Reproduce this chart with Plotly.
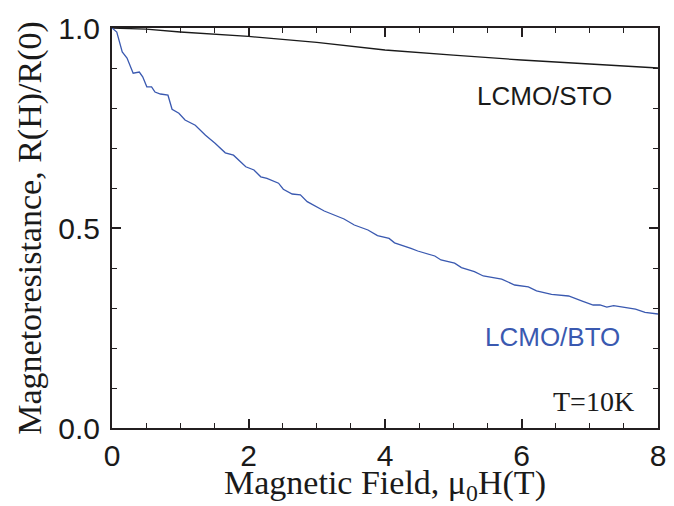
import plotly.graph_objects as go

# Data
bto_x = [0, 0.07, 0.15, 0.22, 0.31, 0.40, 0.45, 0.51, 0.58, 0.63, 0.71, 0.82, 0.88, 0.98,
         1.07, 1.22, 1.37, 1.51, 1.66, 1.78, 1.96, 2.08, 2.18, 2.27, 2.44, 2.51, 2.64, 2.76,
         2.86, 3.11, 3.40, 3.55, 3.75, 3.89, 4.06, 4.14, 4.38, 4.48, 4.73, 4.82, 5.02, 5.12,
         5.31, 5.44, 5.71, 5.90, 6.10, 6.22, 6.44, 6.69, 6.88, 7.05, 7.15, 7.25, 7.35, 7.67,
         7.81, 8.0]
bto_y = [1.0, 0.99, 0.94, 0.925, 0.887, 0.89, 0.878, 0.853, 0.853, 0.84, 0.835, 0.832, 0.797, 0.787,
         0.77, 0.757, 0.732, 0.712, 0.688, 0.682, 0.653, 0.645, 0.628, 0.624, 0.612, 0.597, 0.585, 0.583,
         0.566, 0.5425, 0.5225, 0.5075, 0.495, 0.481, 0.474, 0.463, 0.449, 0.4425, 0.43, 0.42, 0.412, 0.401,
         0.391, 0.38, 0.372, 0.3575, 0.353, 0.343, 0.334, 0.33, 0.318, 0.3075, 0.3075, 0.302, 0.306, 0.297,
         0.289, 0.285]

sto_x = [0, 0.5, 1, 2, 3, 4, 5, 6, 7, 8]
sto_y = [1.0, 0.997, 0.99, 0.979, 0.964, 0.945, 0.932, 0.92, 0.91, 0.90]

x_ticks = [0, 2, 4, 6, 8]
y_ticks = [0.0, 0.5, 1.0]
y_tick_labels = ["0.0", "0.5", "1.0"]

labels = ["LCMO/STO", "LCMO/BTO", "T=10K"]

AXC = "#231f20"
BLUE = "#3a59b0"
SERIF = "Liberation Serif, Times New Roman, serif"
SANS = "Liberation Sans, Arial, sans-serif"

fig = go.Figure()
fig.add_trace(go.Scatter(x=sto_x, y=sto_y, mode="lines",
                         line=dict(color="#1a1a1a", width=1.3), showlegend=False))
fig.add_trace(go.Scatter(x=bto_x, y=bto_y, mode="lines",
                         line=dict(color=BLUE, width=1.3), showlegend=False))

fig.add_annotation(x=6.33, y=0.83, text=labels[0], showarrow=False,
                   font=dict(family=SANS, size=26, color="#1a1a1a"))
fig.add_annotation(x=6.45, y=0.228, text=labels[1], showarrow=False,
                   font=dict(family=SANS, size=26, color=BLUE))
fig.add_annotation(x=7.05, y=0.066, text=labels[2], showarrow=False,
                   font=dict(family=SERIF, size=28, color="#1a1a1a"))

fig.update_layout(
    width=674, height=506,
    margin=dict(l=112, r=16, t=28, b=78),
    plot_bgcolor="white", paper_bgcolor="white",
    xaxis=dict(range=[0, 8], tickvals=x_ticks, ticktext=[str(v) for v in x_ticks],
               ticks="inside", ticklen=9, tickwidth=1.5, tickcolor=AXC,
               minor=dict(dtick=0.5, ticks="inside", ticklen=5, tickwidth=1.2, tickcolor=AXC, showgrid=False),
               showline=True, linecolor=AXC, linewidth=2, mirror="allticks",
               showgrid=False, zeroline=False, automargin=False,
               tickfont=dict(family=SANS, size=30, color="#1a1a1a"),
               title=dict(text="Magnetic Field, \u03bc<sub>0</sub>H(T)", standoff=4,
                          font=dict(family=SERIF, size=34, color="#1a1a1a"))),
    yaxis=dict(range=[0, 1], tickvals=y_ticks, ticktext=y_tick_labels,
               ticks="inside", ticklen=9, tickwidth=1.5, tickcolor=AXC,
               minor=dict(dtick=0.1, ticks="inside", ticklen=5, tickwidth=1.2, tickcolor=AXC, showgrid=False),
               showline=True, linecolor=AXC, linewidth=2, mirror="allticks",
               showgrid=False, zeroline=False, ticklabelstandoff=4, automargin=False,
               tickfont=dict(family=SANS, size=30, color="#1a1a1a"),
               title=dict(text="Magnetoresistance, R(H)/R(0)", standoff=6,
                          font=dict(family=SERIF, size=34, color="#1a1a1a"))),
)

fig.write_html("out.html")
